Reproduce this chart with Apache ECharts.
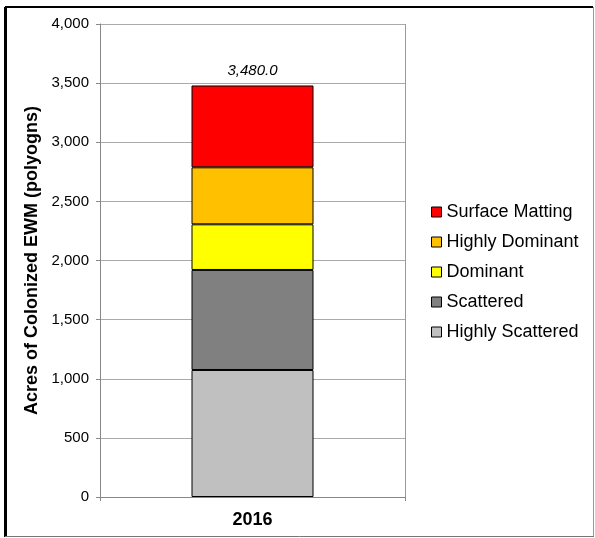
<!DOCTYPE html>
<html>
<head>
<meta charset="utf-8">
<script src="https://cdn.jsdelivr.net/npm/echarts@6/dist/echarts.min.js"></script>
<style>
  html, body { margin: 0; padding: 0; background: #ffffff; }
  #chart { width: 595px; height: 538px; }
</style>
</head>
<body>
<div id="chart"></div>
<script>
// Colonized EWM acreage by density class, 2016
const categories = ['2016'];
const highlyScattered = [1074];
const scattered = [846];
const dominant = [386];
const highlyDominant = [482];
const surfaceMatting = [692];
const yTicks = [0, 500, 1000, 1500, 2000, 2500, 3000, 3500, 4000];

const seriesDefs = [
  { name: 'Highly Scattered', data: highlyScattered, color: '#C0C0C0' },
  { name: 'Scattered', data: scattered, color: '#808080' },
  { name: 'Dominant', data: dominant, color: '#FFFF00' },
  { name: 'Highly Dominant', data: highlyDominant, color: '#FFC000' },
  { name: 'Surface Matting', data: surfaceMatting, color: '#FF0000' }
];

const totals = categories.map((_, i) =>
  seriesDefs.reduce((s, d) => s + d.data[i], 0));

const font = 'Liberation Sans, Arial, sans-serif';

const series = seriesDefs.map((d, idx) => ({
  name: d.name,
  type: 'bar',
  stack: 'total',
  data: d.data,
  barWidth: 122,
  itemStyle: { color: d.color, borderColor: '#000', borderWidth: 1 },
  label: idx === seriesDefs.length - 1 ? {
    show: true,
    position: 'top',
    distance: 7,
    fontFamily: font,
    fontSize: 15,
    fontStyle: 'italic',
    color: '#000',
    formatter: p => totals[p.dataIndex].toLocaleString('en-US', { minimumFractionDigits: 1, maximumFractionDigits: 1 })
  } : { show: false }
}));

const chart = echarts.init(document.getElementById('chart'), null, { renderer: 'canvas' });
chart.setOption({
  animation: false,
  backgroundColor: '#ffffff',
  graphic: [
    // outer frame of the chart panel
    { type: 'line', shape: { x1: 5.5, y1: 7, x2: 5.5, y2: 537 }, style: { stroke: '#000', lineWidth: 3 } },
    { type: 'line', shape: { x1: 5, y1: 7, x2: 593, y2: 7 }, style: { stroke: '#000', lineWidth: 2 } },
    { type: 'line', shape: { x1: 593.5, y1: 7, x2: 593.5, y2: 537 }, style: { stroke: '#999', lineWidth: 1 } },
    { type: 'line', shape: { x1: 5, y1: 536.5, x2: 594, y2: 536.5 }, style: { stroke: '#777', lineWidth: 1 } },
    // right edge of the plot area
    { type: 'line', shape: { x1: 405.5, y1: 24, x2: 405.5, y2: 497 }, style: { stroke: '#999', lineWidth: 1 } }
  ],
  grid: { left: 100, right: 190, top: 24, bottom: 41 },
  legend: {
    orient: 'vertical',
    left: 426,
    top: 198,
    itemGap: 12,
    itemWidth: 10,
    itemHeight: 10,
    icon: 'rect',
    data: seriesDefs.slice().reverse().map(d => ({
      name: d.name,
      itemStyle: { color: d.color, borderColor: '#000', borderWidth: 1 }
    })),
    textStyle: { fontFamily: font, fontSize: 18, color: '#000' }
  },
  xAxis: {
    type: 'category',
    data: categories,
    axisLine: { show: true, lineStyle: { color: '#888', width: 1 } },
    axisTick: { show: true, alignWithLabel: false, length: 4, lineStyle: { color: '#888' } },
    axisLabel: { fontFamily: font, fontSize: 18, fontWeight: 'bold', color: '#000', margin: 14 }
  },
  yAxis: {
    type: 'value',
    min: yTicks[0],
    max: yTicks[yTicks.length - 1],
    interval: yTicks[1] - yTicks[0],
    name: 'Acres of Colonized EWM (polyogns)',
    nameLocation: 'middle',
    nameGap: 54,
    nameTextStyle: { fontFamily: font, fontSize: 18, fontWeight: 'bold', color: '#000' },
    axisLine: { show: true, lineStyle: { color: '#888', width: 1 } },
    axisTick: { show: true, length: 4, lineStyle: { color: '#888' } },
    axisLabel: {
      fontFamily: font, fontSize: 15, color: '#000', margin: 11,
      formatter: v => v.toLocaleString('en-US')
    },
    splitLine: { show: true, lineStyle: { color: '#aaa', width: 1 } }
  },
  series: series
});
</script>
</body>
</html>
